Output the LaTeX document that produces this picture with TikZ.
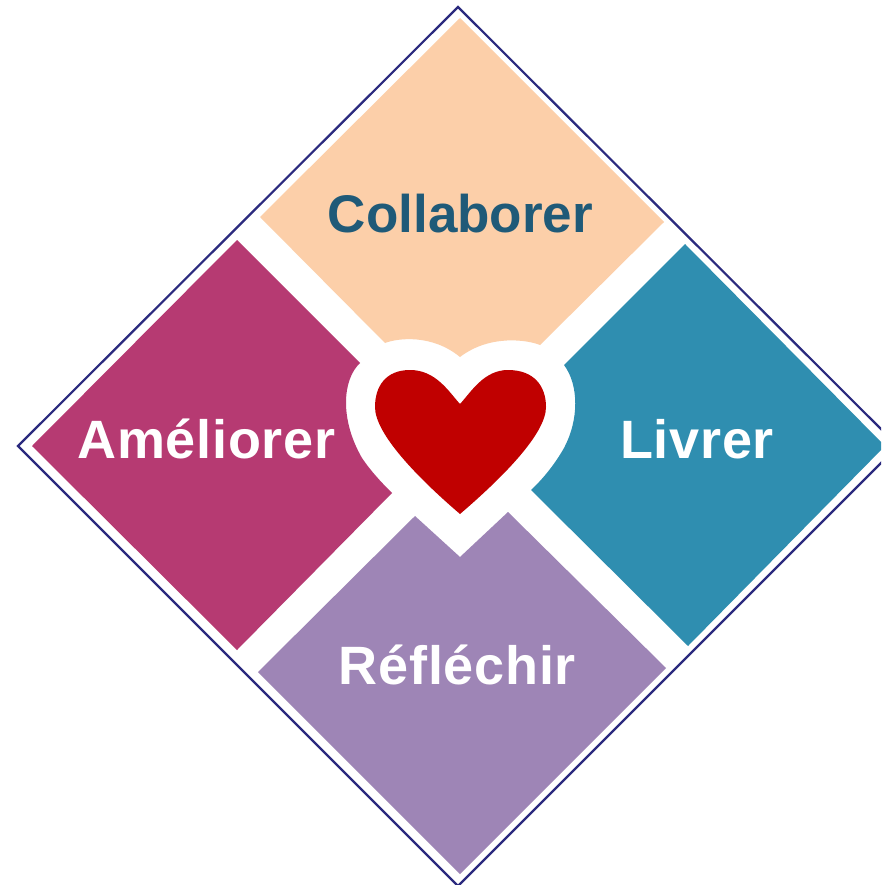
\documentclass[tikz,border=0pt]{standalone}
\usepackage{fontspec}
\setmainfont{Liberation Sans}
\definecolor{peach}{HTML}{FCCFA9}
\definecolor{magentar}{HTML}{B63A72}
\definecolor{teal2}{HTML}{2F8EB0}
\definecolor{lilac}{HTML}{9E85B6}
\definecolor{heartred}{HTML}{C00000}
\definecolor{outlineblue}{HTML}{2B2A7E}
\definecolor{titleblue}{HTML}{1F5A78}
\tikzset{
  quadrant/.style={draw=none},
  frameline/.style={draw=outlineblue,line width=2.2pt,line join=miter},
  label/.style={font=\bfseries\fontsize{53}{60}\selectfont,anchor=base,inner sep=0pt,text=titleblue},
  whitelabel/.style={font=\bfseries\fontsize{54}{60}\selectfont\addfontfeatures{LetterSpace=1.4},anchor=base,inner sep=0pt,text=white}
}
\begin{document}
\begin{tikzpicture}[x=1pt,y=-1pt]
\fill[white] (0,0) rectangle (881,885);
\clip (0,0) rectangle (881,885);
\draw[frameline] (458,7) -- (898,446) -- (458,886) -- (18,446) -- cycle;
% Collaborer
\fill[peach,quadrant] (460,18) -- (664,222) -- (540,345)
  .. controls (528,340) and (490,334) .. (460,357)
  .. controls (432,334) and (398,338) .. (385,343)
  -- (260,217) -- cycle;
% Ameliorer
\fill[magentar,quadrant] (237,240) -- (360,363)
  .. controls (342,380) and (340,420) .. (362,458)
  .. controls (370,470) and (380,481) .. (392,493)
  -- (237,650) -- (32,446) -- cycle;
% Livrer
\fill[teal2,quadrant] (685,244) -- (885,446) -- (688,646) -- (531,490)
  .. controls (545,477) and (556,462) .. (564,448)
  .. controls (579,420) and (579,385) .. (564,365)
  -- cycle;
% Reflechir
\fill[lilac,quadrant] (415,516) -- (460,557) -- (508,512) -- (666,668)
  -- (460,874) -- (258,672) -- cycle;
% heart
\fill[heartred] (460,404)
  .. controls (449,392) and (436,370) .. (410,370)
  .. controls (386,370) and (375,386) .. (375,407)
  .. controls (375,434) and (418,478) .. (460,514)
  .. controls (502,478) and (546,434) .. (546,407)
  .. controls (546,386) and (534,370) .. (508,370)
  .. controls (484,370) and (471,392) .. (460,404) -- cycle;
\node[label] (collab) at (460.5,233) {Collaborer};
\node[whitelabel] (amel) at (206.5,458) {Améliorer};
\node[whitelabel] (livr) at (697,458) {Livrer};
\node[whitelabel] (refl) at (457.5,684) {Réfléchir};
\end{tikzpicture}
\end{document}
